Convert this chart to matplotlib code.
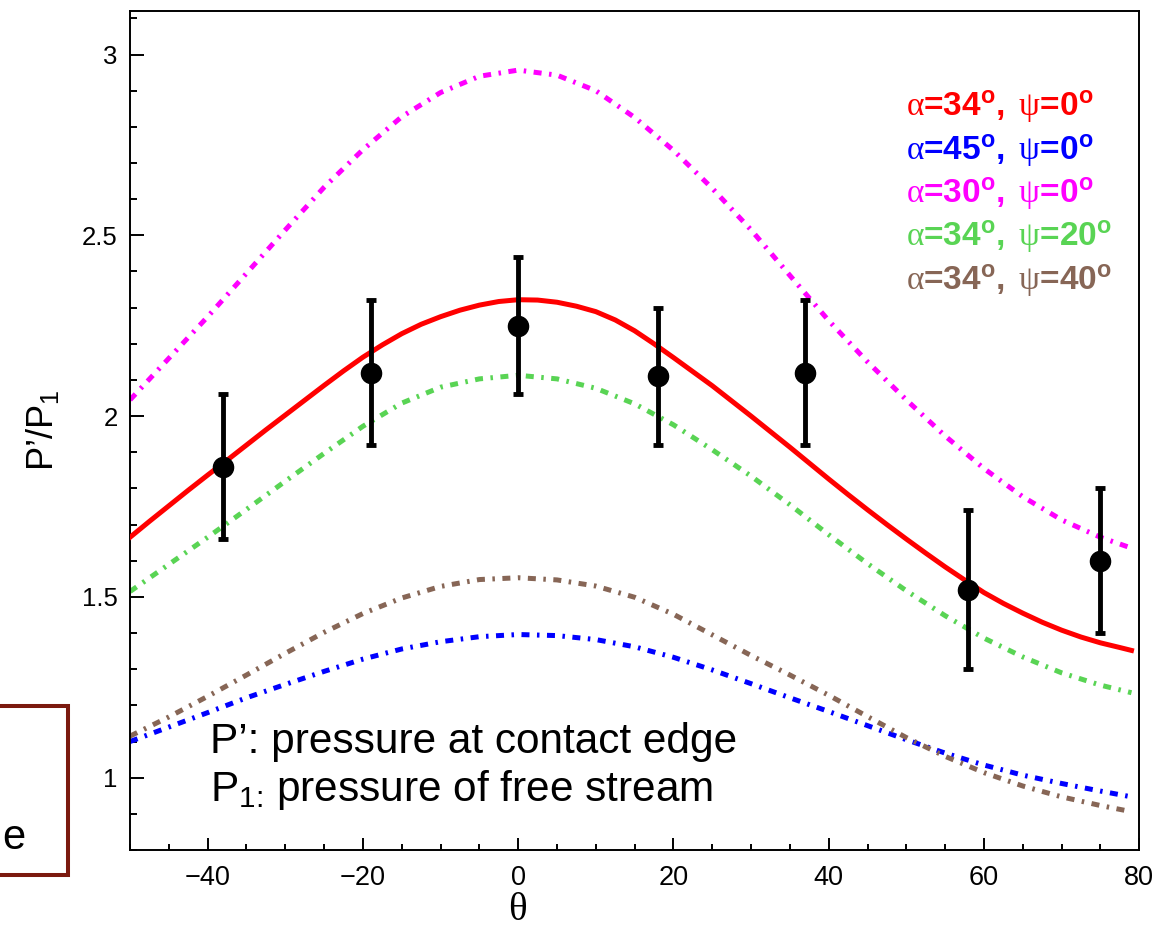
import matplotlib
matplotlib.use("Agg")
import matplotlib.pyplot as plt
from matplotlib.patches import Rectangle
from matplotlib.ticker import MultipleLocator, FixedLocator

plt.rcParams['font.family'] = ['Liberation Sans', 'DejaVu Sans']
plt.rcParams['mathtext.fontset'] = 'custom'
plt.rcParams['mathtext.rm'] = 'Liberation Serif'
plt.rcParams['mathtext.bf'] = 'Liberation Sans:bold'
plt.rcParams['mathtext.sf'] = 'Liberation Sans'
plt.rcParams['mathtext.it'] = 'Liberation Sans:italic'

# measured pressure ratio vs angle
theta_pts = [-38, -19, 0, 18, 37, 58, 75]
ratio_pts = [1.86, 2.12, 2.25, 2.11, 2.12, 1.52, 1.60]
ratio_err = [0.20, 0.20, 0.19, 0.19, 0.20, 0.22, 0.20]

# solid model curve (alpha=34, psi=0), finer theta steps
theta_red = [-50, -47.5, -45, -42.5, -40, -37.5, -35, -32.5, -30, -27.5, -25,
             -22.5, -20, -17.5, -15, -12.5, -10, -7.5, -5, -2.5, 0, 2.5, 5,
             7.5, 10, 12.5, 15, 17.5, 20, 22.5, 25, 27.5, 30, 32.5, 35, 37.5,
             40, 42.5, 45, 47.5, 50, 52.5, 55, 57.5, 60, 62.5, 65, 67.5, 70,
             72.5, 75, 77.5, 79]
a34_p0 = [1.665, 1.709, 1.752, 1.795, 1.837, 1.878, 1.92, 1.962, 2.003, 2.044,
          2.085, 2.125, 2.163, 2.197, 2.228, 2.254, 2.275, 2.293, 2.307, 2.317,
          2.322, 2.321, 2.315, 2.304, 2.289, 2.266, 2.236, 2.20, 2.162, 2.123,
          2.084, 2.042, 2.0, 1.957, 1.914, 1.87, 1.826, 1.783, 1.741, 1.70,
          1.66, 1.621, 1.583, 1.547, 1.512, 1.482, 1.455, 1.43, 1.408, 1.389,
          1.373, 1.36, 1.352]

# dash-dot model curves
theta = [-50, -45, -40, -35, -30, -25, -20, -15, -10, -5, 0, 5, 10, 15,
         20, 25, 30, 35, 40, 45, 50, 55, 60, 65, 70, 75, 79]
a45_p0 = [1.10, 1.14, 1.18, 1.221, 1.258, 1.294, 1.328, 1.356, 1.376, 1.39,
          1.396, 1.393, 1.382, 1.362, 1.333, 1.298, 1.26, 1.221, 1.183, 1.144,
          1.105, 1.068, 1.035, 1.007, 0.984, 0.963, 0.947]
a30_p0 = [2.045, 2.16, 2.275, 2.395, 2.515, 2.633, 2.737, 2.828, 2.895, 2.94,
          2.957, 2.943, 2.90, 2.826, 2.735, 2.63, 2.515, 2.389, 2.264, 2.15,
          2.045, 1.945, 1.855, 1.777, 1.713, 1.665, 1.635]
a34_p20 = [1.515, 1.59, 1.665, 1.742, 1.82, 1.897, 1.972, 2.036, 2.08, 2.103,
           2.113, 2.103, 2.077, 2.034, 1.976, 1.907, 1.834, 1.755, 1.672, 1.592,
           1.517, 1.448, 1.386, 1.334, 1.29, 1.256, 1.235]
a34_p40 = [1.115, 1.168, 1.225, 1.284, 1.344, 1.402, 1.454, 1.497, 1.529, 1.548,
           1.553, 1.547, 1.53, 1.499, 1.452, 1.395, 1.338, 1.284, 1.228, 1.169,
           1.111, 1.059, 1.014, 0.977, 0.947, 0.923, 0.906]

labels = [r"$\mathrm{\alpha}$=34$^{\mathbf{o}}$, $\,\mathrm{\psi}$=0$^{\mathbf{o}}$",
          r"$\mathrm{\alpha}$=45$^{\mathbf{o}}$, $\,\mathrm{\psi}$=0$^{\mathbf{o}}$",
          r"$\mathrm{\alpha}$=30$^{\mathbf{o}}$, $\,\mathrm{\psi}$=0$^{\mathbf{o}}$",
          r"$\mathrm{\alpha}$=34$^{\mathbf{o}}$, $\,\mathrm{\psi}$=20$^{\mathbf{o}}$",
          r"$\mathrm{\alpha}$=34$^{\mathbf{o}}$, $\,\mathrm{\psi}$=40$^{\mathbf{o}}$"]
colors = ['#ff0000', '#0000ff', '#ff00ff', '#59d454', '#876656']

fig = plt.figure(figsize=(11.56, 9.31), dpi=100)
ax = fig.add_axes([0.1125, 0.087, 0.873, 0.901])

dashdot = (0, (1.6, 1.5, 0.5, 1.5))
ax.plot(theta_red, a34_p0, color=colors[0], lw=3.6, zorder=3)
for yv, c in zip([a45_p0, a30_p0, a34_p20, a34_p40], colors[1:]):
    ax.plot(theta, yv, color=c, lw=3.6, linestyle=dashdot, zorder=2)

ax.errorbar(theta_pts, ratio_pts, yerr=ratio_err, fmt='o', color='black',
            ms=14.5, elinewidth=3.5, capsize=3.6, capthick=3.5, zorder=4)

ax.set_xlim(-50, 80)
ax.set_ylim(0.80, 3.12)
ax.xaxis.set_major_locator(MultipleLocator(20))
ax.xaxis.set_minor_locator(MultipleLocator(5))
ax.yaxis.set_major_locator(FixedLocator([1, 1.5, 2, 2.5, 3]))
ax.yaxis.set_minor_locator(MultipleLocator(0.1))
ax.set_yticklabels(['1', '1.5', '2', '2.5', '3'])

ax.tick_params(which='both', direction='in', top=False, right=False, width=1.4)
ax.tick_params(axis='y', which='major', length=10, pad=9, labelsize=18.5)
ax.tick_params(axis='y', which='minor', length=5)
ax.tick_params(axis='x', which='major', length=8.5, pad=11, labelsize=19.5)
ax.tick_params(axis='x', which='minor', length=4.5)
for s in ax.spines.values():
    s.set_linewidth(1.4)

ax.set_xlabel('θ', family='Liberation Serif', fontsize=28)
ax.xaxis.set_label_coords(0.384, -0.05)
ax.set_ylabel(r"P’/P$_{\mathsf{1}}$", fontsize=26)
ax.yaxis.set_label_coords(-0.068, 0.5)

for k, (lab, c) in enumerate(zip(labels, colors)):
    ax.text(0.769, 0.886 - k * 0.0517, lab, color=c, fontsize=24,
            fontweight='bold', transform=ax.transAxes, va='center', ha='left')

ax.text(0.079, 0.129, "P’: pressure at contact edge", fontsize=30.5,
        transform=ax.transAxes, va='center', ha='left')
ax.text(0.079, 0.071, r"P$_{\mathsf{1\!:}}\,$pressure of free stream", fontsize=30.5,
        transform=ax.transAxes, va='center', ha='left')

# partly visible framed box on the left
fig.patches.append(Rectangle((-0.01, 0.0601), 0.0688, 0.1816, transform=fig.transFigure,
                             fill=False, edgecolor='#7b1a0f', lw=2.9))
fig.text(0.022, 0.1, 'e', fontsize=30, ha='right', va='center')

fig.savefig('out.png', dpi=100)
